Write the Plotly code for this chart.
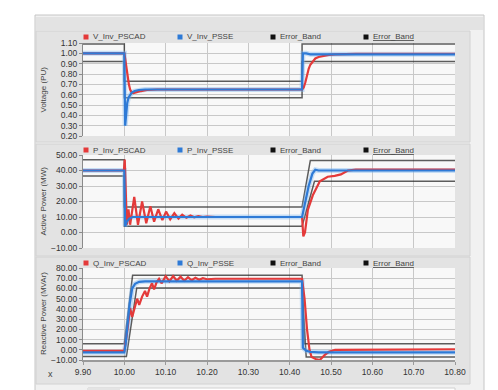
import plotly.graph_objects as go

# ---------------- data ----------------
# Voltage (PU)
t_v_pscad = [9.90, 10.000, 10.002, 10.005, 10.008, 10.011, 10.014, 10.018, 10.022, 10.030, 10.040, 10.055, 10.080,
             10.430, 10.434, 10.438, 10.442, 10.446, 10.450, 10.456, 10.462, 10.470, 10.480, 10.495, 10.510, 10.530, 10.560, 10.800]
v_pscad = [1.00, 1.00, 0.95, 0.86, 0.77, 0.70, 0.65, 0.62, 0.615, 0.625, 0.635, 0.645, 0.65,
           0.65, 0.67, 0.72, 0.79, 0.85, 0.89, 0.925, 0.95, 0.965, 0.975, 0.985, 0.99, 0.993, 0.995, 0.995]
t_v_psse = [9.90, 10.000, 10.002, 10.004, 10.007, 10.010, 10.014, 10.018, 10.025, 10.035, 10.050, 10.430, 10.432, 10.440, 10.450, 10.800]
v_psse = [1.00, 1.00, 0.30, 0.42, 0.52, 0.57, 0.60, 0.62, 0.635, 0.645, 0.65, 0.65, 1.00, 1.00, 0.99, 0.99]
t_vb = [9.90, 10.000, 10.000, 10.430, 10.430, 10.800]
vb_up = [1.09, 1.09, 0.73, 0.73, 1.09, 1.09]
vb_lo = [0.92, 0.92, 0.57, 0.57, 0.92, 0.92]

# Active power (MW)
t_p_pscad = [9.90, 9.999, 10.001, 10.006, 10.010, 10.014, 10.024, 10.033, 10.043, 10.053, 10.063, 10.072, 10.082, 10.092,
             10.101, 10.111, 10.121, 10.131, 10.140, 10.150, 10.160, 10.169, 10.179, 10.190, 10.200, 10.220,
             10.430, 10.433, 10.437, 10.444, 10.456, 10.473, 10.492, 10.509, 10.524, 10.541, 10.560, 10.800]
p_pscad = [40, 40, 47, 5, 15, 5, 23, 5, 20, 6, 17, 7, 15, 8,
           13.5, 8.5, 12.5, 9, 11.5, 9.5, 11, 9.8, 10.5, 10, 10.3, 10,
           10, -2.5, 0, 14.5, 24, 33, 36, 36.5, 37.5, 40, 40.5, 40.5]
t_p_psse = [9.90, 10.000, 10.002, 10.006, 10.012, 10.020, 10.430, 10.436, 10.446, 10.455, 10.462, 10.470, 10.800]
p_psse = [40, 40, 4, 7, 9, 10, 10, 18, 30, 38, 40.5, 40, 40]
t_pb_up = [9.90, 10.000, 10.000, 10.430, 10.450, 10.800]
pb_up = [47, 47, 16.5, 16.5, 46.5, 46.5]
t_pb_lo = [9.90, 10.000, 10.000, 10.430, 10.460, 10.800]
pb_lo = [36.5, 36.5, 4, 4, 33, 33]

# Reactive power (MVAr)
t_q_pscad = [9.90, 10.000, 10.005, 10.010, 10.014, 10.019, 10.025, 10.031, 10.036, 10.043, 10.050, 10.055, 10.061, 10.067,
             10.072, 10.078, 10.084, 10.090, 10.100, 10.109, 10.118, 10.127, 10.136, 10.145, 10.154, 10.163, 10.172,
             10.181, 10.190, 10.200, 10.220, 10.430, 10.436, 10.442, 10.448, 10.453, 10.463, 10.473, 10.485, 10.495,
             10.510, 10.800]
q_pscad = [-1, -1, 12, 30, 41, 32, 42, 50, 44, 52, 57.5, 52, 60, 65,
           59, 66, 69.5, 65, 72, 67, 72, 67.5, 71.5, 67.5, 71, 68, 70.5,
           68.5, 70, 69, 69.5, 69.5, 50, 20, 0, -7, -9, -10, -5, -2,
           0, 0.5]
t_q_psse = [9.90, 10.000, 10.003, 10.008, 10.013, 10.019, 10.026, 10.036, 10.050, 10.430, 10.432, 10.440, 10.450, 10.470, 10.800]
q_psse = [-2.5, -2.5, 5, 25, 45, 60, 64.5, 66.5, 67, 67, 2, -1, -2, -2.5, -2.5]
t_qb_up = [9.90, 10.000, 10.020, 10.430, 10.435, 10.800]
qb_up = [6, 6, 73, 73, 6, 6]
t_qb_lo = [9.90, 10.005, 10.030, 10.430, 10.440, 10.800]
qb_lo = [-6.5, -6.5, 60.5, 60.5, -7, -7]

x_ticks = [9.90, 10.00, 10.10, 10.20, 10.30, 10.40, 10.50, 10.60, 10.70, 10.80]

panels = [
    dict(name_a="V_Inv_PSCAD", name_b="V_Inv_PSSE", title="Voltage (PU)",
         ta=t_v_pscad, ya=v_pscad, tb=t_v_psse, yb=v_psse,
         tu=t_vb, yu=vb_up, tl=t_vb, yl=vb_lo, rng=[0.2, 1.1], dt=0.1),
    dict(name_a="P_Inv_PSCAD", name_b="P_Inv_PSSE", title="Active Power (MW)",
         ta=t_p_pscad, ya=p_pscad, tb=t_p_psse, yb=p_psse,
         tu=t_pb_up, yu=pb_up, tl=t_pb_lo, yl=pb_lo, rng=[-10, 50], dt=10),
    dict(name_a="Q_Inv_PSCAD", name_b="Q_Inv_PSSE", title="Reactive Power (MVAr)",
         ta=t_q_pscad, ya=q_pscad, tb=t_q_psse, yb=q_psse,
         tu=t_qb_up, yu=qb_up, tl=t_qb_lo, yl=qb_lo, rng=[-10, 80], dt=10),
]

# ---------------- layout helpers ----------------
W, H = 498, 390
L, R, T, B = 75, 447, 35, 352


def px(x):
    return (x - L) / (R - L)


def py(y):
    return (B - y) / (B - T)


panel_px = [(35, 128), (147, 240), (260, 352)]
legend_px = [29, 142, 255]
legend_x = [78, 172, 265, 358]

RED = "rgb(228,58,58)"
BLUE = "rgb(46,122,214)"
BAND = "rgba(40,40,40,0.75)"
FONT = "Liberation Sans"

fig = go.Figure()
shapes = []
annotations = []

# window frame
shapes.append(dict(type="rect", xref="paper", yref="paper", x0=px(27), x1=px(476), y0=py(392), y1=py(7),
                   fillcolor="#f1f1f1", line=dict(color="#c6c6c6", width=1), layer="below"))
shapes.append(dict(type="rect", xref="paper", yref="paper", x0=px(28), x1=px(475), y0=py(22), y1=py(9),
                   fillcolor="#e3e3e3", line=dict(width=0), layer="below"))
panel_bg = [(23, 134), (136, 248), (249, 376)]
for (a, b) in panel_bg:
    shapes.append(dict(type="rect", xref="paper", yref="paper", x0=px(28), x1=px(462), y0=py(b), y1=py(a),
                       fillcolor="#e3e3e3", line=dict(color="#d2d2d2", width=1), layer="below"))

for i, p in enumerate(panels):
    k = "" if i == 0 else str(i + 1)
    xa, ya = "x" + k, "y" + k
    top, bot = panel_px[i]
    # plot area background
    shapes.append(dict(type="rect", xref="paper", yref="paper", x0=0, x1=1, y0=py(bot), y1=py(top),
                       fillcolor="#f8f8f8", line=dict(width=0), layer="below"))
    # data lines
    fig.add_trace(go.Scatter(x=p["tu"], y=p["yu"], mode="lines", line=dict(color=BAND, width=1.5),
                             xaxis=xa, yaxis=ya, name="Error_Band", showlegend=False, hoverinfo="skip"))
    fig.add_trace(go.Scatter(x=p["tl"], y=p["yl"], mode="lines", line=dict(color=BAND, width=1.5),
                             xaxis=xa, yaxis=ya, name="Error_Band", showlegend=False, hoverinfo="skip"))
    fig.add_trace(go.Scatter(x=p["tb"], y=p["yb"], mode="lines", line=dict(color="rgba(120,180,240,0.4)", width=5),
                             xaxis=xa, yaxis=ya, showlegend=False, hoverinfo="skip"))
    fig.add_trace(go.Scatter(x=p["ta"], y=p["ya"], mode="lines", line=dict(color=RED, width=2.2),
                             xaxis=xa, yaxis=ya, name=p["name_a"], showlegend=False))
    fig.add_trace(go.Scatter(x=p["tb"], y=p["yb"], mode="lines", line=dict(color=BLUE, width=2.2),
                             xaxis=xa, yaxis=ya, name=p["name_b"], showlegend=False))
    # legend row (square + label) above each panel
    ly = py(legend_px[i])
    for j, (nm, col) in enumerate([(p["name_a"], RED), (p["name_b"], BLUE),
                                   ("Error_Band", "#111"), ("<u>Error_Band</u>", "#111")]):
        cx = legend_x[j]
        shapes.append(dict(type="rect", xref="paper", yref="paper", x0=px(cx - 2.5), x1=px(cx + 2.5),
                           y0=py(legend_px[i] + 2.5), y1=py(legend_px[i] - 2.5),
                           fillcolor=col, line=dict(width=0), layer="above"))
        annotations.append(dict(text=nm, xref="paper", yref="paper", x=px(cx + 5), y=ly, showarrow=False,
                                xanchor="left", yanchor="middle",
                                font=dict(family=FONT, size=8, color="#444")))
    dom = [py(bot), py(top)]
    fig.layout["xaxis" + k] = dict(domain=[0, 1], range=[9.9, 10.8], tickvals=x_ticks, tickformat=".2f",
                                   showticklabels=(i == 2), showgrid=True, gridcolor="#c8c8c8", gridwidth=1,
                                   zeroline=False, anchor=ya, showline=(i == 2), linecolor="#9a9a9a", linewidth=2,
                                   ticks="outside" if i == 2 else "", ticklen=3, tickcolor="#9a9a9a",
                                   tickfont=dict(family=FONT, size=8.5, color="#333"))
    fig.layout["yaxis" + k] = dict(domain=dom, range=p["rng"], dtick=p["dt"], tick0=p["rng"][0], tickformat=".2f",
                                   showgrid=True, gridcolor="#c8c8c8", gridwidth=1, zeroline=False, anchor=xa,
                                   showline=True, linecolor="#8a8a8a", linewidth=1, ticks="outside", ticklen=3,
                                   tickcolor="#8a8a8a", tickfont=dict(family=FONT, size=8.5, color="#333"))
    annotations.append(dict(text=p["title"], xref="paper", yref="paper", x=px(35), y=(dom[0] + dom[1]) / 2,
                            textangle=-90, showarrow=False, xanchor="center", yanchor="middle",
                            font=dict(family=FONT, size=8, color="#444")))

annotations.append(dict(text="x", xref="paper", yref="paper", x=px(42), y=py(366), showarrow=False,
                        xanchor="center", yanchor="middle", font=dict(family=FONT, size=9, color="#444")))

# bottom scrollbar
shapes.append(dict(type="rect", xref="paper", yref="paper", x0=px(80), x1=px(447), y0=py(389), y1=py(380),
                   fillcolor="#ffffff", line=dict(color="#d0d0d0", width=1), layer="below"))
shapes.append(dict(type="rect", xref="paper", yref="paper", x0=px(80), x1=px(112), y0=py(389), y1=py(380),
                   fillcolor="#e4e4e4", line=dict(width=0), layer="below"))

fig.update_layout(width=W, height=H, margin=dict(l=L, r=W - R, t=T, b=H - B),
                  paper_bgcolor="white", plot_bgcolor="rgba(0,0,0,0)", showlegend=False,
                  shapes=shapes, annotations=annotations, font=dict(family=FONT))

fig.write_html("out.html")
